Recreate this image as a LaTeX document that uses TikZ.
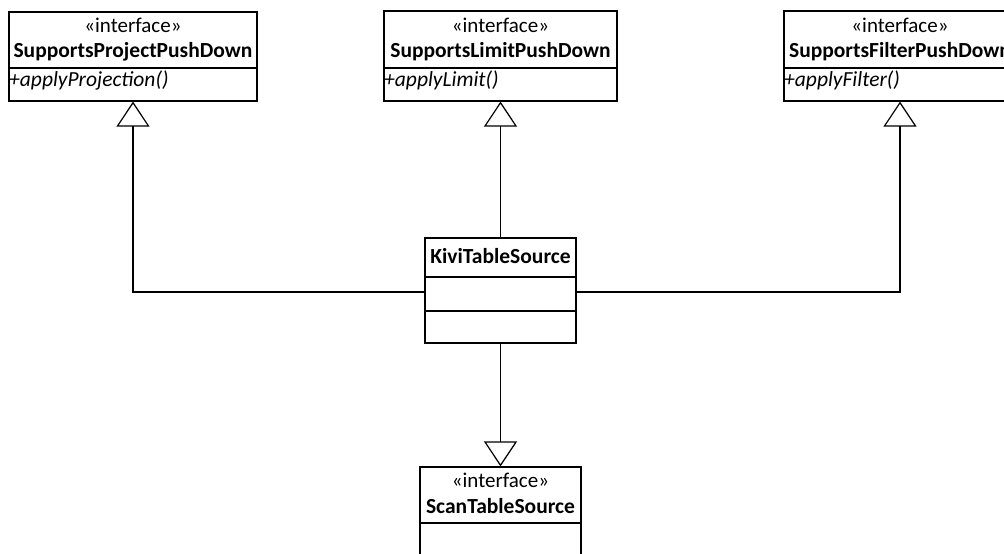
\documentclass[tikz,border=0pt]{standalone}
\usepackage{fontspec}
\setmainfont{Carlito}
\usetikzlibrary{arrows.meta}
\begin{document}
\begin{tikzpicture}[x=1pt,y=-1pt,
  box/.style={draw,line width=1.2pt,inner sep=0pt,rectangle},
  stereo/.style={font=\fontsize{21}{24}\selectfont,inner sep=0pt,anchor=base},
  cname/.style={font=\fontsize{21.5}{24}\selectfont\bfseries,inner sep=0pt,anchor=base},
  meth/.style={font=\fontsize{21.5}{24}\selectfont\itshape,inner sep=0pt,anchor=base west},
  realize/.style={line width=1.2pt,-{Triangle[open,length=25pt,width=33pt,line width=1.2pt]}},
  sep/.style={line width=1.2pt}]
\useasboundingbox (0,0) rectangle (1004,554);
\clip (0,0) rectangle (1004,554);
% box 1
\node[box,minimum width=248pt,minimum height=89pt] (b1) at (133,56.5) {};
\draw[sep] (9,68) -- (257,68);
\node[stereo] (b1s) at (133,32) {«interface»};
\node[cname] (b1n) at (133,57) {SupportsProjectPushDown};
\node[meth] (b1m) at (9,86) {+applyProjection()};
% box 2
\node[box,minimum width=233pt,minimum height=90pt] (b2) at (500.5,56) {};
\draw[sep] (384,68) -- (617,68);
\node[stereo] (b2s) at (500.5,32) {«interface»};
\node[cname] (b2n) at (500.5,57) {SupportsLimitPushDown};
\node[meth] (b2m) at (384,86) {+applyLimit()};
% box 3
\node[box,minimum width=232pt,minimum height=90pt] (b3) at (900,56) {};
\draw[sep] (784,68) -- (1004,68);
\node[stereo] (b3s) at (900,32) {«interface»};
\node[cname] (b3n) at (900,57) {SupportsFilterPushDown};
\node[meth] (b3m) at (784,86) {+applyFilter()};
% KiviTableSource
\node[box,minimum width=151pt,minimum height=105pt] (kivi) at (500.5,290.5) {};
\draw[sep] (425,277) -- (576,277);
\draw[sep] (425,311) -- (576,311);
\node[cname] (kivin) at (500.5,263) {KiviTableSource};
% ScanTableSource
\node[box,minimum width=161pt,minimum height=130pt] (scan) at (500.5,532) {};
\draw[sep] (420,523) -- (581,523);
\node[stereo] (scans) at (500.5,487) {«interface»};
\node[cname] (scann) at (500.5,513) {ScanTableSource};
% connectors
\draw[realize] ([yshift=-1.5pt]kivi.west) -| (b1.south);
\draw[realize] ([yshift=-1.5pt]kivi.east) -| (b3.south);
\draw[realize] (kivi.north) -- (b2.south);
\draw[realize] (kivi.south) -- (scan.north);
\end{tikzpicture}
\end{document}
